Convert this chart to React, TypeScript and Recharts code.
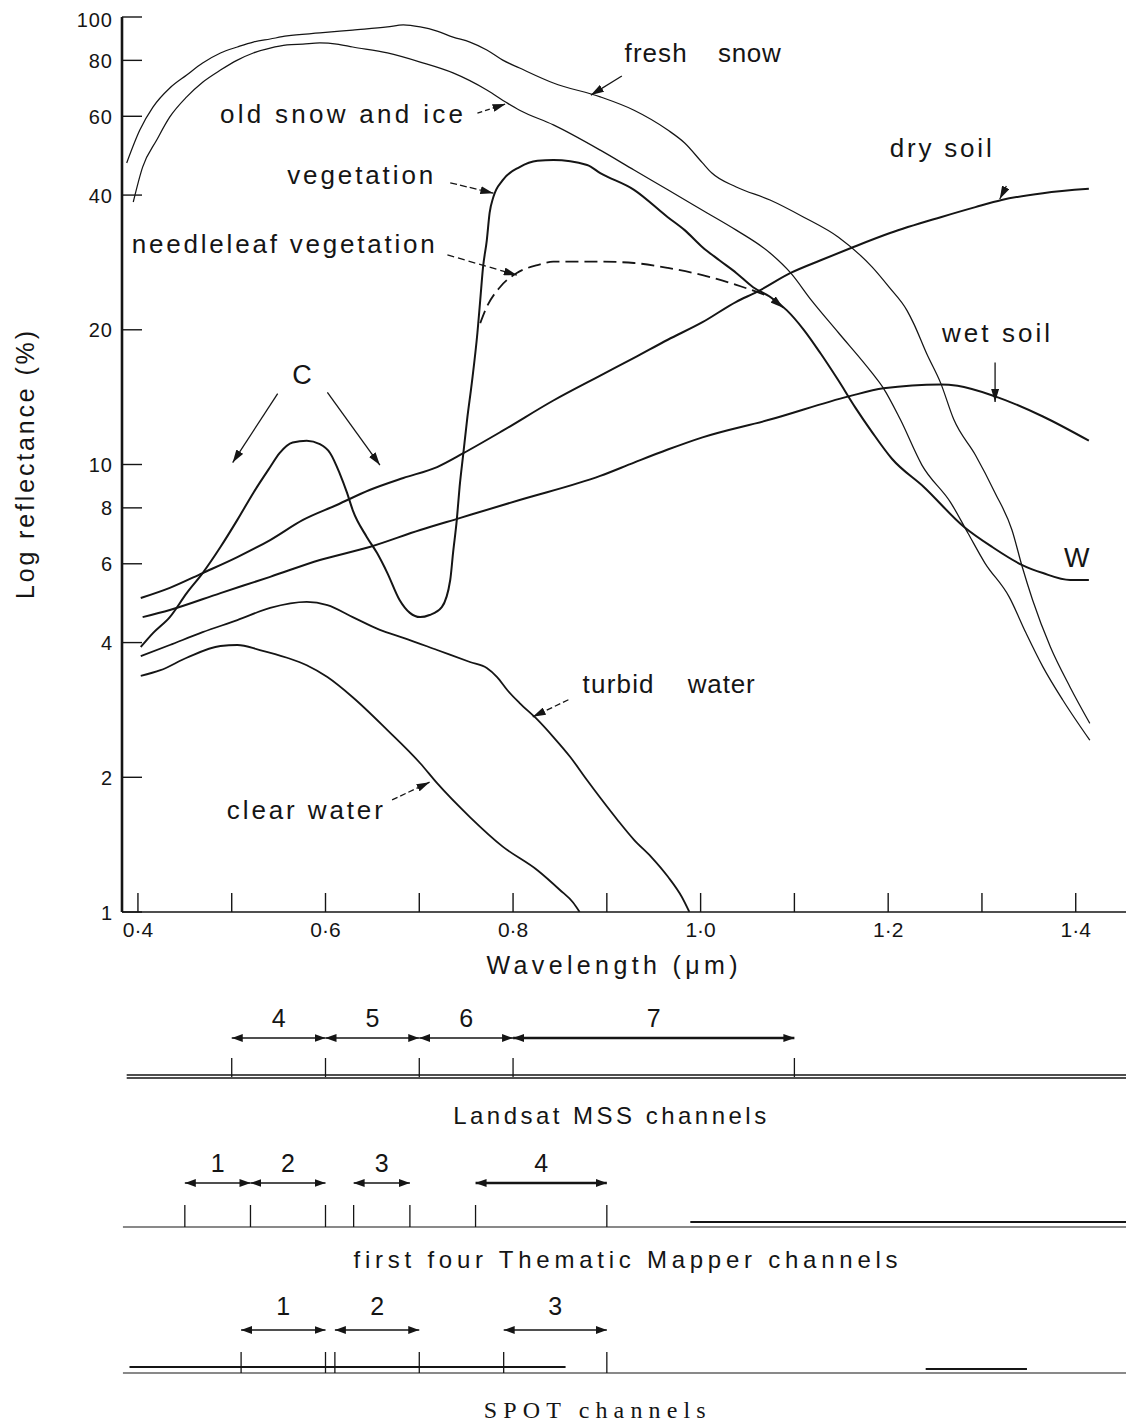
import React from 'react';
import { LineChart, Line, XAxis, YAxis, ReferenceLine, ReferenceDot } from 'recharts';

type Pt = [number, number];

// ---- spectral reflectance curves: [wavelength (µm), reflectance (%)] ----
const freshSnow: Pt[] = [
  [0.388, 47.2], [0.402, 55.9], [0.416, 62.9], [0.434, 69.4], [0.452, 74.2], [0.469, 78.9], [0.488, 83.1],
  [0.506, 85.7], [0.523, 87.9], [0.541, 89.3], [0.559, 90.7], [0.594, 92.1], [0.629, 93.5], [0.666, 95.0],
  [0.683, 96.0], [0.701, 95.0], [0.719, 93.0], [0.736, 90.2], [0.754, 87.9], [0.772, 84.4], [0.789, 80.1],
  [0.807, 76.9], [0.843, 71.2], [0.893, 66.3], [0.929, 61.9], [0.965, 55.9], [0.983, 52.3], [1.002, 47.2],
  [1.012, 44.8], [1.038, 41.7], [1.074, 39.0], [1.11, 35.7], [1.147, 32.2], [1.183, 27.6], [1.201, 24.9],
  [1.22, 22.1], [1.227, 20.7], [1.241, 17.7], [1.256, 15.2], [1.27, 12.6], [1.293, 10.5], [1.314, 8.64],
  [1.332, 7.14], [1.343, 5.9], [1.354, 4.98], [1.373, 3.91], [1.394, 3.18], [1.415, 2.64],
];
const oldSnow: Pt[] = [
  [0.395, 38.6], [0.405, 46.2], [0.42, 53.1], [0.434, 59.8], [0.452, 66.3], [0.469, 71.5], [0.488, 76.1],
  [0.506, 80.1], [0.523, 83.1], [0.541, 85.2], [0.559, 86.6], [0.576, 87.0], [0.594, 87.5], [0.612, 87.0],
  [0.629, 85.7], [0.666, 83.1], [0.701, 79.3], [0.736, 75.0], [0.772, 68.7], [0.794, 64.2], [0.807, 61.9],
  [0.843, 57.4], [0.893, 50.4], [0.929, 45.5], [0.965, 41.1], [1.002, 37.0], [1.038, 33.4], [1.074, 29.7],
  [1.096, 26.8], [1.118, 23.3], [1.147, 19.7], [1.183, 16.0], [1.195, 14.8], [1.213, 12.6], [1.236, 9.97],
  [1.267, 8.2], [1.285, 7.03], [1.303, 6.03], [1.329, 5.06], [1.347, 4.2], [1.365, 3.53], [1.386, 2.98],
  [1.415, 2.42],
];
const vegetation: Pt[] = [
  [0.403, 3.91], [0.416, 4.2], [0.434, 4.56], [0.452, 5.16], [0.469, 5.72], [0.488, 6.54], [0.506, 7.52],
  [0.523, 8.64], [0.541, 9.87], [0.551, 10.6], [0.565, 11.2], [0.58, 11.3], [0.594, 11.1], [0.605, 10.6],
  [0.615, 9.57], [0.623, 8.64], [0.629, 7.91], [0.644, 6.89], [0.655, 6.34], [0.666, 5.72], [0.679, 4.98],
  [0.69, 4.66], [0.701, 4.56], [0.711, 4.61], [0.724, 4.8], [0.733, 5.52], [0.736, 6.34], [0.74, 7.52],
  [0.743, 8.91], [0.747, 10.6], [0.751, 12.6], [0.756, 15.2], [0.762, 19.7], [0.765, 23.3], [0.768, 27.6],
  [0.772, 31.7], [0.775, 36.5], [0.779, 39.6], [0.789, 43.2], [0.807, 46.2], [0.826, 47.7], [0.843, 47.9],
  [0.879, 46.7], [0.893, 44.8], [0.929, 41.1], [0.965, 35.7], [0.983, 33.4], [1.002, 30.6], [1.02, 28.6],
  [1.038, 26.8], [1.056, 24.9], [1.074, 23.7], [1.092, 22.1], [1.11, 20.0], [1.128, 17.7], [1.147, 15.4],
  [1.165, 13.4], [1.183, 11.8], [1.204, 10.3], [1.238, 8.91], [1.281, 7.25], [1.311, 6.54], [1.343, 5.96],
  [1.365, 5.72], [1.394, 5.52], [1.414, 5.52],
];
const needleleaf: Pt[] = [
  [0.765, 20.7], [0.772, 22.5], [0.786, 24.9], [0.804, 26.8], [0.826, 27.9], [0.843, 28.4], [0.893, 28.4],
  [0.929, 28.2], [0.965, 27.5], [1.002, 26.5], [1.038, 25.2], [1.06, 24.3], [1.074, 23.7],
];
const drySoil: Pt[] = [
  [0.403, 5.03], [0.434, 5.3], [0.469, 5.72], [0.506, 6.21], [0.541, 6.78], [0.576, 7.52], [0.612, 8.12],
  [0.647, 8.77], [0.683, 9.33], [0.719, 9.87], [0.747, 10.6], [0.789, 11.9], [0.843, 13.9], [0.893, 15.8],
  [0.929, 17.3], [0.965, 19.0], [1.002, 20.8], [1.038, 23.1], [1.06, 24.3], [1.096, 26.8], [1.128, 28.6],
  [1.161, 30.5], [1.202, 32.9], [1.256, 35.7], [1.293, 37.6], [1.321, 39.0], [1.365, 40.4], [1.414, 41.3],
];
const wetSoil: Pt[] = [
  [0.405, 4.56], [0.434, 4.73], [0.488, 5.16], [0.541, 5.61], [0.594, 6.12], [0.647, 6.54], [0.701, 7.14],
  [0.743, 7.59], [0.807, 8.33], [0.893, 9.43], [0.929, 10.1], [0.965, 10.8], [1.002, 11.5], [1.074, 12.6],
  [1.158, 14.2], [1.195, 14.8], [1.256, 15.1], [1.274, 15.0], [1.314, 14.2], [1.365, 12.8], [1.414, 11.3],
];
const turbidWater: Pt[] = [
  [0.403, 3.73], [0.434, 3.95], [0.469, 4.22], [0.506, 4.49], [0.541, 4.78], [0.58, 4.93], [0.602, 4.85],
  [0.629, 4.56], [0.658, 4.27], [0.683, 4.1], [0.719, 3.85], [0.754, 3.62], [0.772, 3.51], [0.783, 3.35],
  [0.794, 3.13], [0.807, 2.93], [0.826, 2.69], [0.843, 2.46], [0.861, 2.22], [0.879, 1.97], [0.893, 1.8],
  [0.911, 1.61], [0.929, 1.45], [0.947, 1.33], [0.965, 1.2], [0.98, 1.08], [0.988, 1.0],
];
const clearWater: Pt[] = [
  [0.403, 3.37], [0.424, 3.47], [0.452, 3.7], [0.488, 3.93], [0.506, 3.95], [0.53, 3.85], [0.559, 3.7],
  [0.58, 3.56], [0.602, 3.35], [0.629, 3.02], [0.666, 2.55], [0.701, 2.15], [0.719, 1.94], [0.754, 1.63],
  [0.789, 1.4], [0.826, 1.24], [0.85, 1.12], [0.864, 1.05], [0.871, 1.0],
];

// ---- axes ----
const yTicks = [1, 2, 4, 6, 8, 10, 20, 40, 60, 80, 100];
const yTickLabels = ['1', '2', '4', '6', '8', '10', '20', '40', '60', '80', '100'];
const xTicks = [0.4, 0.5, 0.6, 0.7, 0.8, 0.9, 1.0, 1.1, 1.2, 1.3, 1.4];
const xLabelled = [0.4, 0.6, 0.8, 1.0, 1.2, 1.4];
const xLabelText = ['0·4', '0·6', '0·8', '1·0', '1·2', '1·4'];

// ---- sensor channels (µm) ----
const mssBands: Pt[] = [[0.5, 0.6], [0.6, 0.7], [0.7, 0.8], [0.8, 1.1]];
const mssNames = ['4', '5', '6', '7'];
const tmBands: Pt[] = [[0.45, 0.52], [0.52, 0.6], [0.63, 0.69], [0.76, 0.9]];
const tmNames = ['1', '2', '3', '4'];
const spotBands: Pt[] = [[0.51, 0.6], [0.61, 0.7], [0.79, 0.9]];
const spotNames = ['1', '2', '3'];

const INK = '#151515';
const SANS = '"Liberation Sans", Arial, Helvetica, sans-serif';
const SERIF = '"Liberation Serif", "Times New Roman", serif';
const X_DOMAIN: [number, number] = [0.383, 1.46];

const series = [
  { key: 'fresh', data: freshSnow, w: 1.25, dash: undefined as string | undefined },
  { key: 'old', data: oldSnow, w: 1.25, dash: undefined },
  { key: 'veg', data: vegetation, w: 2, dash: undefined },
  { key: 'needle', data: needleleaf, w: 1.8, dash: '13 6' },
  { key: 'dry', data: drySoil, w: 2, dash: undefined },
  { key: 'wet', data: wetSoil, w: 2, dash: undefined },
  { key: 'turbid', data: turbidWater, w: 1.8, dash: undefined },
  { key: 'clear', data: clearWater, w: 1.8, dash: undefined },
];

// annotation arrows in data space
const arrows: { a: Pt; b: Pt; dash?: string }[] = [
  { a: [0.916, 73.8], b: [0.883, 66.9] },
  { a: [0.762, 61.0], b: [0.792, 63.9], dash: '5 3' },
  { a: [0.733, 42.6], b: [0.779, 40.4], dash: '7 3' },
  { a: [0.73, 29.4], b: [0.804, 26.5], dash: '7 4' },
  { a: [0.549, 14.4], b: [0.501, 10.1] },
  { a: [0.602, 14.5], b: [0.658, 9.97] },
  { a: [0.859, 2.98], b: [0.821, 2.73], dash: '6 3' },
  { a: [0.671, 1.78], b: [0.711, 1.95], dash: '6 3' },
  { a: [1.314, 16.9], b: [1.314, 13.8] },
  { a: [1.326, 41.9], b: [1.319, 39.2] },
  { a: [1.074, 23.7], b: [1.088, 22.4] },
];

const labels: { t: string; x: number; y: number; w: number; s?: number }[] = [
  { t: 'fresh', x: 0.952, y: 79.3, w: 62 },
  { t: 'snow', x: 1.052, y: 79.3, w: 63 },
  { t: 'old snow and ice', x: 0.617, y: 58.0, w: 243 },
  { t: 'vegetation', x: 0.637, y: 42.4, w: 146 },
  { t: 'needleleaf vegetation', x: 0.555, y: 29.7, w: 303 },
  { t: 'C', x: 0.575, y: 15.1, w: 18, s: 27 },
  { t: 'dry soil', x: 1.256, y: 48.7, w: 102 },
  { t: 'wet soil', x: 1.315, y: 18.8, w: 108 },
  { t: 'W', x: 1.401, y: 5.9, w: 26, s: 27 },
  { t: 'turbid', x: 0.912, y: 3.09, w: 71 },
  { t: 'water', x: 1.022, y: 3.09, w: 67 },
  { t: 'clear water', x: 0.578, y: 1.61, w: 156 },
];

const rows = (pts: Pt[]) => pts.map(([x, y]) => ({ x, y }));

const textAt = (t: string, w: number, size: number, family: string) => (p: any) => {
  const vb = p.viewBox || {};
  const cx = (vb.x ?? p.x ?? 0) + (vb.width || 0) / 2;
  const cy = (vb.y ?? p.y ?? 0) + (vb.height || 0) / 2;
  return (
    <text x={cx} y={cy} textAnchor="middle" fontFamily={family} fontSize={size} fill={INK}
      textLength={w} lengthAdjust="spacing">{t}</text>
  );
};

const YTick = (p: any) => {
  const { x, y, payload } = p;
  const i = yTicks.findIndex((v) => Math.abs(v - payload.value) < 1e-9);
  const ax = x + 9;
  const top = i === yTicks.length - 1;
  return (
    <g>
      <line x1={ax} x2={ax + 20} y1={y} y2={y} stroke={INK} strokeWidth={1.4} />
      <text x={x} y={y + (top ? 10 : 7.5)} textAnchor="end" fontFamily={SANS} fontSize={20} letterSpacing={1} fill={INK}>
        {i >= 0 ? yTickLabels[i] : ''}
      </text>
    </g>
  );
};

const XTick = (p: any) => {
  const { x, y, payload } = p;
  const i = xLabelled.findIndex((v) => Math.abs(v - payload.value) < 1e-9);
  return (
    <g>
      <line x1={x} x2={x} y1={y} y2={y - 19} stroke={INK} strokeWidth={1.4} />
      {i >= 0 && (
        <text x={x} y={y + 25} textAnchor="middle" fontFamily={SANS} fontSize={21} fill={INK}>
          {xLabelText[i]}
        </text>
      )}
    </g>
  );
};

const xTitle = (p: any) => {
  const vb = p.viewBox || { x: 114, y: 904 };
  return (
    <text x={vb.x + 490} y={vb.y + 62} textAnchor="middle" fontFamily={SANS} fontSize={25} fill={INK}
      textLength={251} lengthAdjust="spacing">Wavelength (μm)</text>
  );
};

const yTitle = (p: any) => {
  const vb = p.viewBox || { x: 14, y: 9 };
  const cx = vb.x + 3;
  const cy = vb.y + 448;
  return (
    <text x={cx} y={cy} transform={`rotate(-90, ${cx}, ${cy})`} textAnchor="middle" dominantBaseline="central"
      fontFamily={SANS} fontSize={25} fill={INK} textLength={268} lengthAdjust="spacing">Log reflectance (%)</text>
  );
};

// channel panel layout (pixels from top of the lower panel)
const panels = [
  { bands: mssBands, names: mssNames, digitY: 29, arrowY: 40, tickTop: 60, tickBot: 79, thick: 3 },
  { bands: tmBands, names: tmNames, digitY: 174, arrowY: 185, tickTop: 207, tickBot: 229, thick: 3 },
  { bands: spotBands, names: spotNames, digitY: 317, arrowY: 332, tickTop: 354, tickBot: 375, thick: -1 },
];
const baseLines: { x1: number; x2: number; y: number; w: number }[] = [
  { x1: 0.388, x2: 1.46, y: 77, w: 1.3 },
  { x1: 0.388, x2: 1.46, y: 80, w: 1.3 },
  { x1: 0.384, x2: 1.46, y: 229, w: 1.2 },
  { x1: 0.989, x2: 1.46, y: 224, w: 2.2 },
  { x1: 0.391, x2: 0.856, y: 369, w: 2.2 },
  { x1: 0.384, x2: 1.46, y: 375, w: 1.2 },
  { x1: 1.24, x2: 1.348, y: 371, w: 2.2 },
];
const panelTitles = [
  { t: 'Landsat MSS channels', x: 0.903, y: 126, w: 313, f: SANS, s: 24 },
  { t: 'first four Thematic Mapper channels', x: 0.92, y: 270, w: 544, f: SANS, s: 24 },
  { t: 'SPOT channels', x: 0.887, y: 420, w: 222, f: SERIF, s: 24 },
];

export default function App() {
  return (
    <div style={{ width: 1126 }}>
      <LineChart width={1126} height={990} margin={{ top: 9, right: 2, left: 14, bottom: 46 }}>
        <defs>
          <marker id="annoHead" viewBox="0 0 13 8" refX="13" refY="4" markerWidth="13" markerHeight="8"
            markerUnits="userSpaceOnUse" orient="auto-start-reverse">
            <path d="M0,0 L13,4 L0,8 Z" fill={INK} />
          </marker>
        </defs>
        <XAxis dataKey="x" type="number" domain={X_DOMAIN} allowDataOverflow ticks={xTicks} interval={0}
          height={40} tickSize={0} tickMargin={0} tickLine={false}
          axisLine={{ stroke: INK, strokeWidth: 1.6 }} tick={(p: any) => <XTick {...p} />} label={xTitle} />
        <YAxis type="number" scale="log" domain={[1, 100]} allowDataOverflow ticks={yTicks} interval={0}
          width={100} tickSize={0} tickMargin={9} tickLine={false}
          axisLine={{ stroke: INK, strokeWidth: 2.6 }} tick={(p: any) => <YTick {...p} />} label={yTitle} />
        {series.map((s) => (
          <Line key={s.key} data={rows(s.data)} dataKey="y" type="monotone" stroke={INK} strokeWidth={s.w}
            strokeDasharray={s.dash} dot={false} activeDot={false} isAnimationActive={false} />
        ))}
        {arrows.map((a, i) => (
          <ReferenceLine key={'ar' + i} ifOverflow="visible"
            segment={[{ x: a.a[0], y: a.a[1] }, { x: a.b[0], y: a.b[1] }]}
            stroke={INK} strokeWidth={1.3} strokeDasharray={a.dash} markerEnd="url(#annoHead)" />
        ))}
        {labels.map((l, i) => (
          <ReferenceDot key={'lb' + i} x={l.x} y={l.y} r={1} fill="none" stroke="none" ifOverflow="visible"
            label={textAt(l.t, l.w, l.s ?? 26, SANS)} />
        ))}
      </LineChart>
      <LineChart width={1126} height={425} margin={{ top: 0, right: 2, left: 114, bottom: 0 }}>
        <defs>
          <marker id="bandHead" viewBox="0 0 11 8" refX="11" refY="4" markerWidth="11" markerHeight="8"
            markerUnits="userSpaceOnUse" orient="auto-start-reverse">
            <path d="M0,0 L11,4 L0,8 Z" fill={INK} />
          </marker>
        </defs>
        <XAxis dataKey="x" type="number" domain={X_DOMAIN} allowDataOverflow hide />
        <YAxis type="number" domain={[0, 425]} reversed allowDataOverflow hide />
        <Line data={[{ x: X_DOMAIN[0], y: 0 }, { x: X_DOMAIN[1], y: 0 }]} dataKey="y" stroke="none"
          dot={false} activeDot={false} isAnimationActive={false} />
        {baseLines.map((b, i) => (
          <ReferenceLine key={'bl' + i} ifOverflow="visible" segment={[{ x: b.x1, y: b.y }, { x: b.x2, y: b.y }]}
            stroke={INK} strokeWidth={b.w} />
        ))}
        {panels.map((pn, pi) => {
          const edges = Array.from(new Set(pn.bands.flat()));
          return (
            <React.Fragment key={'pn' + pi}>
              {edges.map((e, j) => (
                <ReferenceLine key={`tk${pi}-${j}`} ifOverflow="visible"
                  segment={[{ x: e, y: pn.tickTop }, { x: e, y: pn.tickBot }]} stroke={INK} strokeWidth={1.3} />
              ))}
              {pn.bands.map((b, j) => (
                <ReferenceLine key={`ba${pi}-${j}`} ifOverflow="visible"
                  segment={[{ x: b[0], y: pn.arrowY }, { x: b[1], y: pn.arrowY }]} stroke={INK}
                  strokeWidth={j === pn.thick ? 2.6 : 1.5} markerStart="url(#bandHead)" markerEnd="url(#bandHead)" />
              ))}
              {pn.bands.map((b, j) => (
                <ReferenceDot key={`bn${pi}-${j}`} x={(b[0] + b[1]) / 2} y={pn.digitY} r={1} fill="none"
                  stroke="none" ifOverflow="visible" label={textAt(pn.names[j], 13, 25, SANS)} />
              ))}
            </React.Fragment>
          );
        })}
        {panelTitles.map((t, i) => (
          <ReferenceDot key={'pt' + i} x={t.x} y={t.y} r={1} fill="none" stroke="none" ifOverflow="visible"
            label={textAt(t.t, t.w, t.s, t.f)} />
        ))}
      </LineChart>
    </div>
  );
}
